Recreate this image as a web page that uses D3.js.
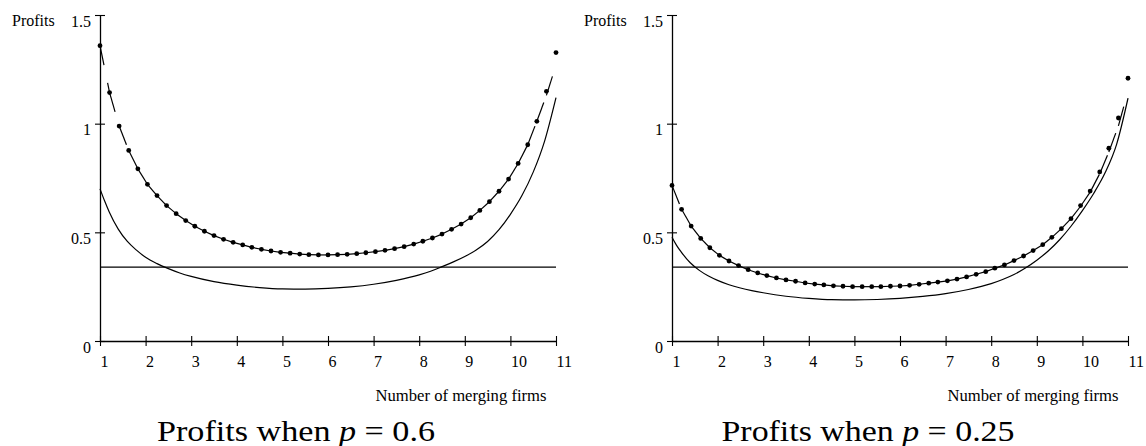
<!DOCTYPE html>
<html>
<head>
<meta charset="utf-8">
<script src="https://cdn.jsdelivr.net/npm/d3@7/dist/d3.min.js"></script>
<style>
  body { margin: 0; background: #fff; }
  svg text { font-family: "Liberation Serif", "Times New Roman", Times, serif; fill: #000; }
</style>
</head>
<body>
<div id="chart"></div>
<script>
var w = 1146;
var h = 446;
var serif = "'Liberation Serif', 'Times New Roman', Times, serif";

// x positions of the simulated points (number of merging firms)
var firms = [1.00, 1.21, 1.42, 1.63, 1.83, 2.04, 2.25, 2.46, 2.67, 2.88, 3.08, 3.29, 3.50,
    3.71, 3.92, 4.13, 4.33, 4.54, 4.75, 4.96, 5.17, 5.38, 5.58, 5.79, 6.00, 6.21, 6.42,
    6.63, 6.83, 7.04, 7.25, 7.46, 7.67, 7.88, 8.08, 8.29, 8.50, 8.71, 8.92, 9.13, 9.33,
    9.54, 9.75, 9.96, 10.17, 10.38, 10.58, 10.79, 11.00];

// p = 0.6
var dotsA = [1.359, 1.143, 0.989, 0.877, 0.792, 0.721, 0.669, 0.623, 0.586, 0.554, 0.528,
    0.505, 0.485, 0.468, 0.454, 0.442, 0.431, 0.422, 0.414, 0.408, 0.404, 0.400, 0.397,
    0.396, 0.396, 0.397, 0.399, 0.402, 0.406, 0.411, 0.417, 0.425, 0.434, 0.446, 0.459,
    0.474, 0.492, 0.514, 0.538, 0.567, 0.601, 0.641, 0.689, 0.745, 0.817, 0.903, 1.011,
    1.149, 1.327];
var dashA = [1.359, 1.143, 0.989, 0.877, 0.792, 0.721, 0.669, 0.623, 0.586, 0.554, 0.528,
    0.505, 0.485, 0.468, 0.454, 0.442, 0.431, 0.422, 0.414, 0.408, 0.404, 0.400, 0.397,
    0.396, 0.396, 0.397, 0.399, 0.402, 0.406, 0.411, 0.417, 0.425, 0.434, 0.446, 0.459,
    0.474, 0.492, 0.514, 0.538, 0.567, 0.601, 0.641, 0.689, 0.745, 0.817, 0.903, 1.011,
    1.130, 1.270];

// p = 0.25
var dotsB = [0.716, 0.606, 0.529, 0.472, 0.429, 0.394, 0.368, 0.347, 0.328, 0.313, 0.301,
    0.290, 0.281, 0.275, 0.267, 0.262, 0.258, 0.254, 0.252, 0.250, 0.250, 0.250, 0.250,
    0.252, 0.253, 0.256, 0.261, 0.266, 0.271, 0.277, 0.285, 0.295, 0.307, 0.319, 0.335,
    0.350, 0.370, 0.391, 0.416, 0.443, 0.477, 0.517, 0.563, 0.623, 0.690, 0.778, 0.887,
    1.026, 1.209];
var dashB = [0.716, 0.606, 0.529, 0.472, 0.429, 0.394, 0.368, 0.347, 0.328, 0.313, 0.301,
    0.290, 0.281, 0.275, 0.267, 0.262, 0.258, 0.254, 0.252, 0.250, 0.250, 0.250, 0.250,
    0.252, 0.253, 0.256, 0.261, 0.266, 0.271, 0.277, 0.285, 0.295, 0.307, 0.319, 0.335,
    0.350, 0.370, 0.391, 0.416, 0.443, 0.477, 0.517, 0.563, 0.620, 0.685, 0.770, 0.870,
    0.990, 1.150];

// smooth solid curves
var solidX = [1, 1.1, 1.2, 1.4, 1.6, 1.8, 2, 2.25, 2.5, 2.75, 3, 3.5, 4, 4.5, 5, 5.5, 6,
    6.5, 7, 7.5, 8, 8.25, 8.5, 8.75, 9, 9.25, 9.5, 9.75, 10, 10.25, 10.5, 10.75, 11];
var solidA = [0.70, 0.645, 0.595, 0.515, 0.458, 0.418, 0.385, 0.356, 0.333, 0.313, 0.297,
    0.273, 0.257, 0.246, 0.240, 0.239, 0.242, 0.249, 0.261, 0.279, 0.304, 0.321, 0.342,
    0.364, 0.389, 0.419, 0.458, 0.512, 0.583, 0.668, 0.777, 0.920, 1.120];
var solidB = [0.477, 0.440, 0.410, 0.360, 0.325, 0.299, 0.279, 0.259, 0.244, 0.232, 0.222,
    0.206, 0.196, 0.190, 0.189, 0.191, 0.196, 0.205, 0.218, 0.237, 0.264, 0.283, 0.306,
    0.336, 0.372, 0.414, 0.466, 0.528, 0.600, 0.680, 0.775, 0.905, 1.117];

var threshold = 0.34;

var xTicks = [1, 2, 3, 4, 5, 6, 7, 8, 9, 10, 11];
var yTicks = [0, 0.5, 1, 1.5];
var yTickLabels = ["0", "0.5", "1", "1.5"];

var panels = [
    { left: 100, dots: dotsA, dash: dashA, solid: solidA, pval: "0.6", capLen: 278 },
    { left: 672, dots: dotsB, dash: dashB, solid: solidB, pval: "0.25", capLen: 293 }
];

var svg = d3.select("#chart")
    .append("svg")
    .attr("width", w)
    .attr("height", h);

svg.append("rect").attr("width", w).attr("height", h).attr("fill", "#fff");

panels.forEach(function (p) {
    var xScale = d3.scaleLinear().domain([1, 11]).range([p.left, p.left + 456]);
    var yScale = d3.scaleLinear().domain([0, 1.5]).range([341, 15]);

    var xAxis = d3.axisBottom(xScale).tickValues(xTicks).tickSizeOuter(0)
        .tickFormat(d3.format("d"));
    var yAxis = d3.axisLeft(yScale).tickValues(yTicks).tickSizeOuter(0)
        .tickFormat(function (d, i) { return yTickLabels[i]; });

    var gx = svg.append("g").attr("transform", "translate(0," + yScale(0) + ")").call(xAxis)
        .attr("font-family", serif).attr("font-size", 16);
    gx.select(".domain").attr("stroke-width", 1.3);
    gx.selectAll(".tick line").attr("y1", -5).attr("y2", 5).attr("stroke-width", 1.1);
    gx.selectAll(".tick text").attr("text-anchor", "start").attr("dy", null)
        .attr("y", 26).attr("x", 0);

    var gy = svg.append("g").attr("transform", "translate(" + xScale(1) + ",0)").call(yAxis)
        .attr("font-family", serif).attr("font-size", 16);
    gy.select(".domain").attr("stroke-width", 1.3);
    gy.selectAll(".tick line").attr("x1", -5).attr("x2", 5).attr("stroke-width", 1.1);
    gy.selectAll(".tick text").attr("dy", null).attr("y", 11).attr("x", -9);

    svg.append("text")
        .attr("x", xScale(1) - 88)
        .attr("y", 26)
        .attr("font-family", serif)
        .attr("font-size", 16)
        .text("Profits");

    svg.append("text")
        .attr("x", xScale(1) + 361)
        .attr("y", 401)
        .attr("text-anchor", "middle")
        .attr("textLength", 171)
        .attr("lengthAdjust", "spacingAndGlyphs")
        .attr("font-family", serif)
        .attr("font-size", 16)
        .text("Number of merging firms");

    // threshold line
    svg.append("line")
        .attr("x1", xScale(1)).attr("x2", xScale(11))
        .attr("y1", yScale(threshold)).attr("y2", yScale(threshold))
        .attr("stroke", "#000").attr("stroke-width", 1.2);

    // solid curve
    var line = d3.line()
        .x(function (d) { return xScale(d[0]); })
        .y(function (d) { return yScale(d[1]); })
        .curve(d3.curveMonotoneX);
    svg.append("path")
        .datum(d3.zip(solidX, p.solid))
        .attr("fill", "none")
        .attr("stroke", "#000")
        .attr("stroke-width", 1.2)
        .attr("d", line);

    // dashed curve, dash pattern restarts on each segment
    svg.selectAll(null)
        .data(d3.pairs(d3.zip(firms, p.dash)))
        .enter().append("line")
        .attr("x1", function (d) { return xScale(d[0][0]); })
        .attr("y1", function (d) { return yScale(d[0][1]); })
        .attr("x2", function (d) { return xScale(d[1][0]); })
        .attr("y2", function (d) { return yScale(d[1][1]); })
        .attr("stroke", "#000")
        .attr("stroke-width", 1.2)
        .attr("stroke-dasharray", "20,18");

    // simulated points
    svg.selectAll(null)
        .data(d3.zip(firms, p.dots))
        .enter().append("circle")
        .attr("cx", function (d) { return xScale(d[0]); })
        .attr("cy", function (d) { return yScale(d[1]); })
        .attr("r", 2.4)
        .attr("fill", "#000");

    // caption
    var cap = svg.append("text")
        .attr("x", xScale(1) + 196)
        .attr("y", 441)
        .attr("text-anchor", "middle")
        .attr("textLength", p.capLen)
        .attr("lengthAdjust", "spacingAndGlyphs")
        .attr("font-family", serif)
        .attr("font-size", 30);
    cap.append("tspan").text("Profits when ");
    cap.append("tspan").attr("font-style", "italic").text("p");
    cap.append("tspan").text(" = " + p.pval);
});
</script>
</body>
</html>
